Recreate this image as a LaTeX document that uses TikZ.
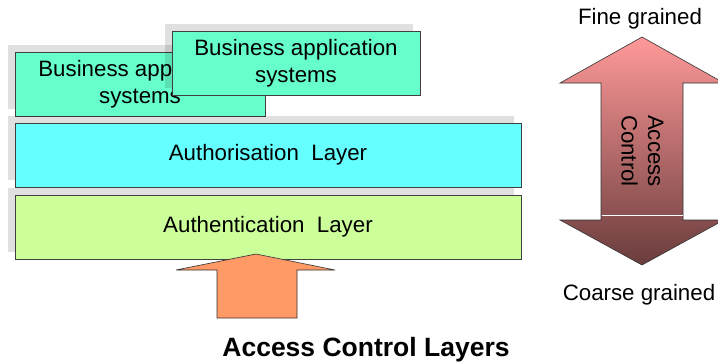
\documentclass[tikz,border=0pt]{standalone}
\usepackage{fontspec}
\setmainfont{Liberation Sans}
\usepackage{tikz}
\usetikzlibrary{shadows}
\usetikzlibrary{positioning}
\usetikzlibrary{calc}
\definecolor{bizgreen}{HTML}{66FFCC}
\definecolor{authcyan}{HTML}{66FFFF}
\definecolor{authnlime}{HTML}{CCFF99}
\definecolor{uporange}{HTML}{FF9966}
\definecolor{finepink}{HTML}{FF9999}
\definecolor{coarsebrown}{HTML}{6A3C3C}
\tikzstyle{layer}=[rectangle,draw=black!75,line width=0.7pt,minimum height=64pt,inner sep=0pt,align=center,
  font=\fontsize{22.3}{26.5}\selectfont,
  drop shadow={shadow xshift=-7pt,shadow yshift=7pt,fill=black,opacity=0.12}]
\tikzstyle{outline} = [draw=black!80,line width=0.6pt]
\tikzstyle{lbl} = [font=\fontsize{22.3}{26.5}\selectfont,inner sep=0pt]
\tikzset{title/.style={font=\fontsize{26.5}{31}\selectfont\bfseries,inner sep=0pt}}

\begin{document}
\begin{tikzpicture}[x=1pt,y=-1pt]

  \clip (0,0) rectangle (718,362);

  \def\ax{256};
  \def\bx{642};

  \foreach \x/\y/\w/\name/\col/\label in {140/84/250/biz1/bizgreen/{Business application\\systems},
          296/63/248/biz2/bizgreen/{Business application\\systems},
          268/155/506/authz/authcyan/{Authorisation\ \ Layer},
          268/227/506/authn/authnlime/{Authentication\ \ Layer}}
          \node[layer,fill=\col,minimum width=\w pt] (\name) at (\x,\y) {\label};

  % arrow into the layers
  \draw[outline,fill=uporange] (\ax-39,318) -- (\ax-39,270) -- (\ax-80,270) -- (\ax,254)
        -- (\ax+79,270) -- (\ax+41,270) -- (\ax+41,318) -- cycle;
  \node[title,anchor=base] (caption) at (366,356) {Access Control Layers};

  % granularity arrow
  \draw[outline,top color=finepink,bottom color=coarsebrown] (\bx,37) -- (\bx+82,83) -- (\bx+41,83)
        -- (\bx+41,220) -- (\bx+82,220) -- (\bx,265) -- (\bx-82,220) -- (\bx-41,220)
        -- (\bx-41,83) -- (\bx-82,83) -- cycle;
  \draw[white,line width=0.8pt] (\bx-40.5,215) -- (\bx+40.5,215);

  \node[lbl,rotate=-90,align=center] (ac) at (\bx+0.5,151) {Access\\Control};
  \node[lbl,anchor=base] (fine) at (640,24) {Fine grained};
  \node[lbl,anchor=base] (coarse) at (639,300) {Coarse grained};

\end{tikzpicture}
\end{document}
